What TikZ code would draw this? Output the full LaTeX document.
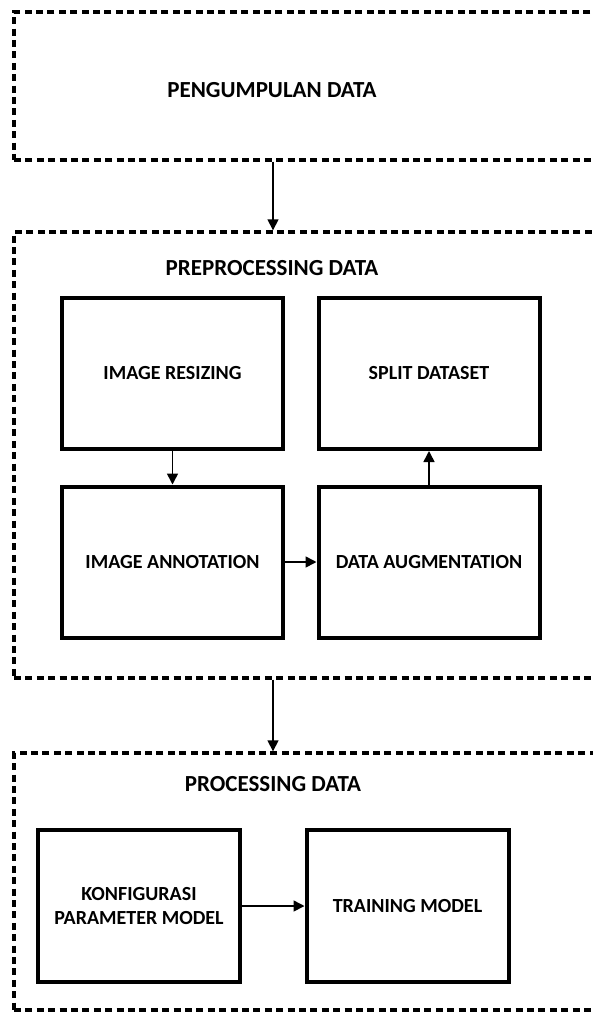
\documentclass[tikz,border=0pt]{standalone}
\usepackage{fontspec}
\setmainfont{Carlito}
\usetikzlibrary{arrows.meta}
\tikzset{
  stage/.style={draw, line width=1.7pt, dash pattern=on 3.5pt off 2.2pt, minimum width=298pt},
  stagetitle/.style={font=\bfseries\fontsize{11.5}{13}\selectfont},
  stepbox/.style={draw, line width=2pt, minimum width=110.5pt, minimum height=75.5pt, align=center, font=\bfseries\fontsize{10}{12}\selectfont},
  smallbox/.style={stepbox, minimum width=101pt, minimum height=76pt},
  flow/.style={-{Triangle[length=5.5pt,width=5.5pt]}, line width=0.8pt}
}
\begin{document}
\begin{tikzpicture}[x=0.5pt,y=-0.5pt]
        \useasboundingbox (0,0) rectangle (593,1017);
        % stages
        \node[stage, minimum height=74pt] (pengumpulan) at (312,86) {};
        \node[stage, minimum height=223pt] (preproc) at (312,455) {};
        \node[stage, minimum height=128.5pt] (proc) at (312,881.5) {};
        \node[stagetitle] (ttlpengumpulan) at (272,90) {PENGUMPULAN DATA};
        \node[stagetitle] (ttlpreproc) at (272,268) {PREPROCESSING DATA};
        \node[stagetitle] (ttlproc) at (273,784) {PROCESSING DATA};
        % preprocessing steps
        \node[stepbox] (resize) at (172.5,373.5) {IMAGE RESIZING};
        \node[stepbox] (split) at (429,373.5) {SPLIT DATASET};
        \node[stepbox] (annot) at (172.5,562) {IMAGE ANNOTATION};
        \node[stepbox] (augment) at (429,562) {DATA AUGMENTATION};
        % processing steps
        \node[smallbox] (konfig) at (139,906) {KONFIGURASI\\PARAMETER MODEL};
        \node[smallbox] (training) at (407.5,906) {TRAINING MODEL};
        % arrows
        \coordinate (axis) at (273,0);
        \draw[flow] (pengumpulan.south -| axis) -- (preproc.north -| axis);
        \draw[flow] (preproc.south -| axis) -- (proc.north -| axis);
        \draw[flow] (resize) -- (annot);
        \draw[flow] (annot) -- (augment);
        \draw[flow] (augment) -- (split);
        \draw[flow] (konfig) -- (training);
    \end{tikzpicture}
\end{document}
